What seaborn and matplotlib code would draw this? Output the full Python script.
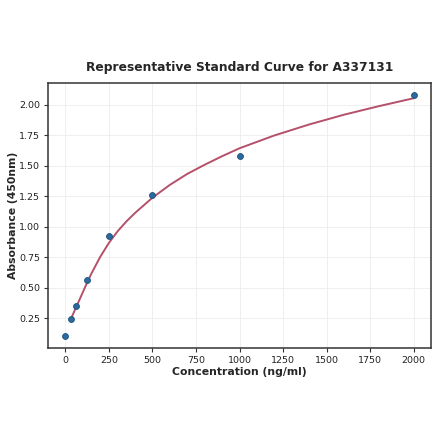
import numpy as np
import pandas as pd
import matplotlib
matplotlib.use("Agg")
import matplotlib.pyplot as plt
import seaborn as sns

# standard points
concentration = [0, 31.25, 62.5, 125, 250, 500, 1000, 2000]
absorbance = [0.107, 0.245, 0.354, 0.564, 0.928, 1.262, 1.582, 2.08]

# fitted curve
curve_x = [31.25, 50, 75, 100, 125, 150, 200, 250, 300, 350, 400, 500, 600,
           700, 800, 900, 1000, 1200, 1400, 1600, 1800, 2000]
curve_y = [0.245, 0.305, 0.385, 0.465, 0.545, 0.62, 0.755, 0.87, 0.965, 1.045,
           1.115, 1.24, 1.345, 1.435, 1.51, 1.58, 1.645, 1.75, 1.84, 1.92,
           1.99, 2.055]

sns.set_theme(style="whitegrid")
plt.rcParams["font.family"] = ["DejaVu Sans"]

fig = plt.figure(figsize=(4.4, 4.41), dpi=100)
ax = fig.add_axes([48 / 440, 1 - 348 / 441, (431 - 48) / 440, (348 - 83) / 441])

pts = pd.DataFrame({"conc": concentration, "abs": absorbance})
fit = pd.DataFrame({"conc": curve_x, "abs": curve_y})

sns.lineplot(data=fit, x="conc", y="abs", ax=ax, color="#b5506a", linewidth=1.4)
sns.scatterplot(data=pts, x="conc", y="abs", ax=ax, color="#2b6a9e",
                edgecolor="#1d4f78", linewidth=0.6, s=18, zorder=3)

ax.set_xlim(-100, 2100)
ax.set_ylim(0.008, 2.18)
ax.set_xticks([0, 250, 500, 750, 1000, 1250, 1500, 1750, 2000])
ax.set_yticks([0.25, 0.5, 0.75, 1.0, 1.25, 1.5, 1.75, 2.0])
ax.set_yticklabels([f"{v:.2f}" for v in [0.25, 0.5, 0.75, 1.0, 1.25, 1.5, 1.75, 2.0]])

ax.grid(True, color="#ececec", linewidth=0.6)
for s in ax.spines.values():
    s.set_color("#333333")
    s.set_linewidth(1.1)
ax.tick_params(axis="both", which="both", length=3, width=0.8, color="#333333",
               pad=2.5, labelsize=6.8, labelcolor="#222222", bottom=True, left=True)

ax.set_xlabel("Concentration (ng/ml)", fontsize=7.8, fontweight="bold")
ax.set_ylabel("Absorbance (450nm)", fontsize=7.8, fontweight="bold")
ax.xaxis.set_label_coords(0.5, -0.072)
ax.yaxis.set_label_coords(-0.078, 0.5)
ax.set_title("Representative Standard Curve for A337131", fontsize=8.8,
             fontweight="bold", pad=9)

fig.savefig("out.png", dpi=100)
